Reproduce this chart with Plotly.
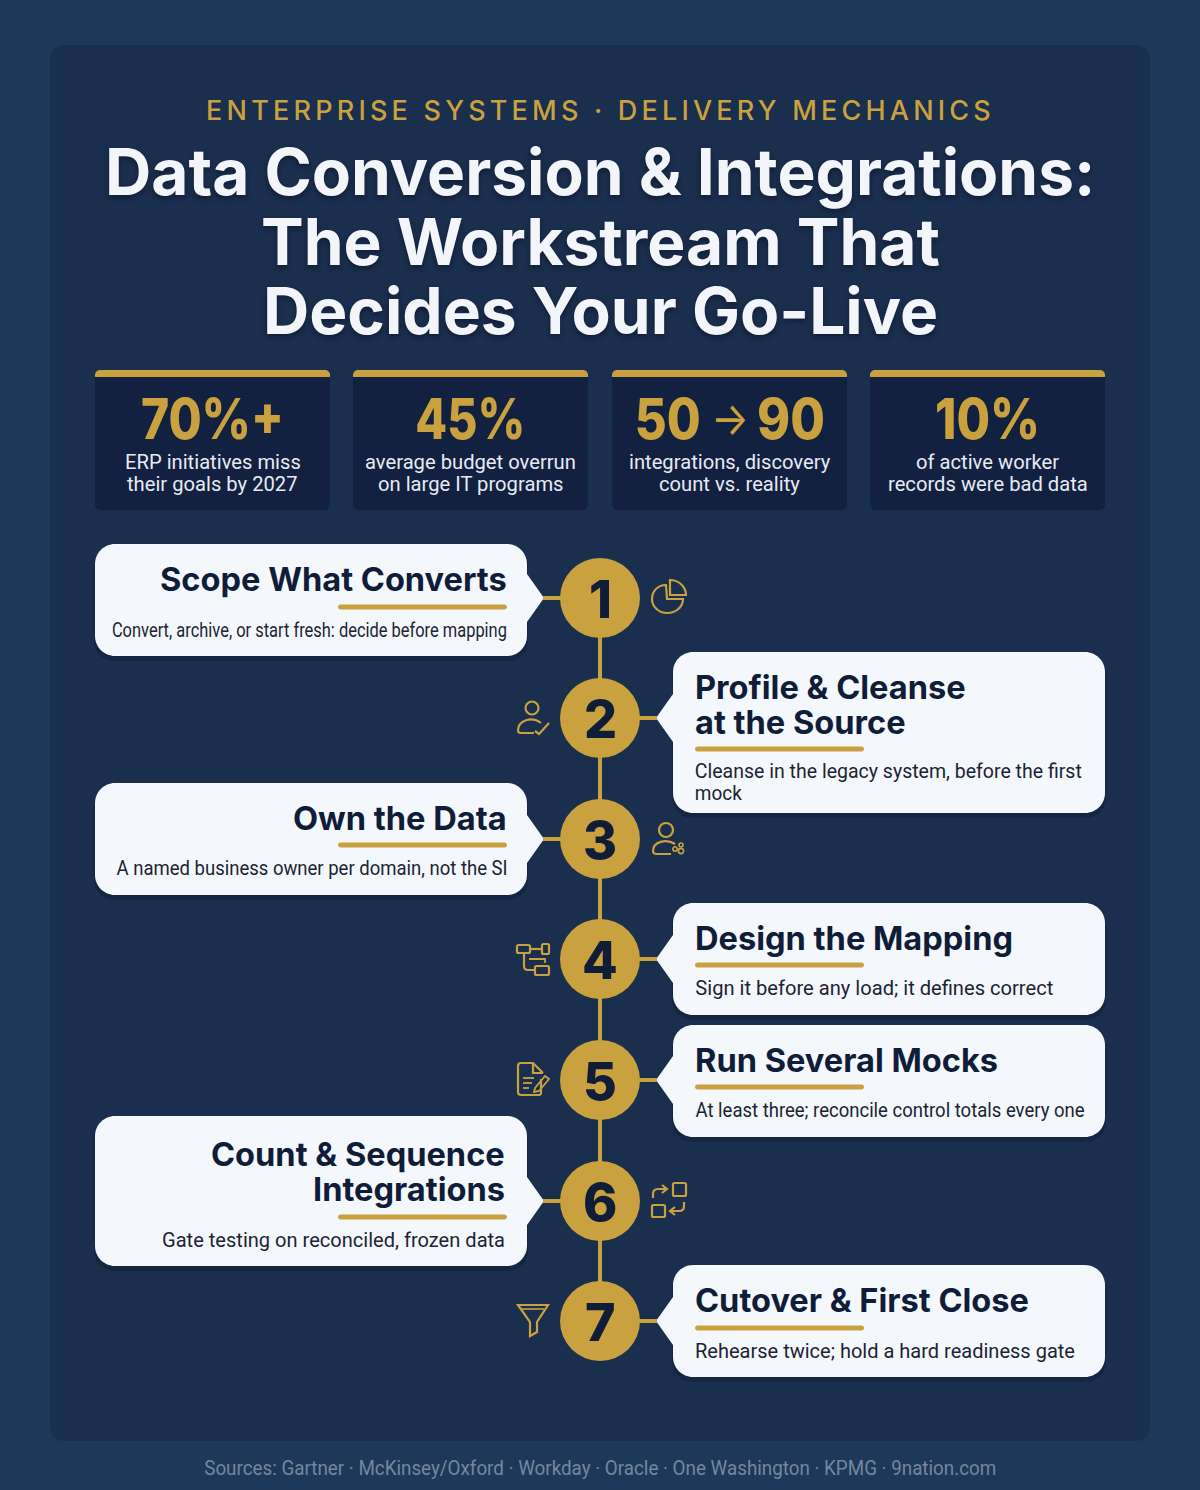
import json
import plotly.graph_objects as go

eyebrow = "ENTERPRISE SYSTEMS · DELIVERY MECHANICS"
headline = ["Data Conversion & Integrations:", "The Workstream That", "Decides Your Go-Live"]
stat_values = ["70%+", "45%", "50 → 90", "10%"]
stat_labels = [
    ["ERP initiatives miss", "their goals by 2027"],
    ["average budget overrun", "on large IT programs"],
    ["integrations, discovery", "count vs. reality"],
    ["of active worker", "records were bad data"],
]
step_numbers = ["1", "2", "3", "4", "5", "6", "7"]
step_titles = [
    ["Scope What Converts"],
    ["Profile & Cleanse", "at the Source"],
    ["Own the Data"],
    ["Design the Mapping"],
    ["Run Several Mocks"],
    ["Count & Sequence", "Integrations"],
    ["Cutover & First Close"],
]
step_descs = [
    ["Convert, archive, or start fresh: decide before mapping"],
    ["Cleanse in the legacy system, before the first", "mock"],
    ["A named business owner per domain, not the SI"],
    ["Sign it before any load; it defines correct"],
    ["At least three; reconcile control totals every one"],
    ["Gate testing on reconciled, frozen data"],
    ["Rehearse twice; hold a hard readiness gate"],
]
sources = "Sources: Gartner · McKinsey/Oxford · Workday · Oracle · One Washington · KPMG · 9nation.com"

# layout of the page, in pixels
step_y = [598, 718, 839, 959, 1080, 1201, 1321]
step_side = ["left", "right", "left", "right", "right", "left", "right"]
card_top = [544, 652, 783, 903, 1025, 1116, 1265]
card_bottom = [656, 813, 895, 1015, 1137, 1266, 1377]
title_y = [[579], [687, 722], [818], [938], [1060], [1154, 1189], [1300]]
rule_y = [607, 749, 845, 965, 1087, 1217, 1328]
desc_y = [[630], [771, 793], [868], [988], [1110], [1240], [1351]]
desc_width = [[395], [387, 47], [391], [358], [389], [343], [380]]
stat_left = [95, 353, 612, 870]
stat_width = 235

GOLD = "#c9a13f"
NAVY = "#101d38"
WHITE = "#f4f7fb"
HEAD = "Inter"
BODY = "Roboto"


def rrect(x0, y0, x1, y1, r, r_bottom=None):
    rb = r if r_bottom is None else r_bottom
    k = 0.45
    return (f"M {x0+r} {y0} L {x1-r} {y0} C {x1-r*k} {y0} {x1} {y0+r*k} {x1} {y0+r} "
            f"L {x1} {y1-rb} C {x1} {y1-rb*k} {x1-rb*k} {y1} {x1-rb} {y1} "
            f"L {x0+rb} {y1} C {x0+rb*k} {y1} {x0} {y1-rb*k} {x0} {y1-rb} "
            f"L {x0} {y0+r} C {x0} {y0+r*k} {x0+r*k} {y0} {x0+r} {y0} Z")


shapes = []


def fill(path, color, layer="below"):
    shapes.append(dict(type="path", path=path, fillcolor=color, line_width=0, layer=layer))


def stroke(path, width=2.2):
    shapes.append(dict(type="path", path=path, line=dict(color=GOLD, width=width), layer="above"))


def ring(cx, cy, r, width=2.2):
    shapes.append(dict(type="circle", x0=cx-r, x1=cx+r, y0=cy-r, y1=cy+r,
                       line=dict(color=GOLD, width=width), layer="above"))


# panel and stat cards
fill(rrect(50, 45, 1150, 1441, 14), "#1a2e4d")
for x in stat_left:
    fill(rrect(x, 370, x+stat_width, 510, 6), "#11213f")
    fill(rrect(x, 370, x+stat_width, 377, 5, 0.5), GOLD)

# step cards with their pointer, connector and rule
for i, y in enumerate(step_y):
    left = step_side[i] == "left"
    x0, x1 = (95, 527) if left else (673, 1105)
    fill(rrect(x0-1, card_top[i]+2, x1+1, card_bottom[i]+5, 20), "rgba(8,18,38,0.28)")
    fill(rrect(x0, card_top[i], x1, card_bottom[i], 20), WHITE)
    if left:
        fill(f"M 527 {y-24} L 544 {y} L 527 {y+24} Z", WHITE)
        fill(f"M 543 {y-2} L 562 {y-2} L 562 {y+2} L 543 {y+2} Z", GOLD)
        fill(rrect(338, rule_y[i]-2.5, 507, rule_y[i]+2.5, 2.5), GOLD)
    else:
        fill(f"M 673 {y-24} L 656 {y} L 673 {y+24} Z", WHITE)
        fill(f"M 638 {y-2} L 657 {y-2} L 657 {y+2} L 638 {y+2} Z", GOLD)
        fill(rrect(695, rule_y[i]-2.5, 864, rule_y[i]+2.5, 2.5), GOLD)

# icon 1, pie
stroke("M 666 585 C 657 585 652 592 652 599 C 652 607 659 613 667 613 C 676 613 683 607 683 599 L 667 599 Z")
stroke("M 670 580 L 670 595 L 686 595 C 686 587 679 580 670 580 Z")
# icon 2, person with check
ring(532, 708, 6.5)
stroke("M 541 723 C 532 716 518 720 518 731 C 518 733 520 733 522 733 L 534 733")
stroke("M 535 731 L 539 734 L 549 723")
# icon 3, person with small glyph
ring(666, 830, 7)
stroke("M 675 844 C 666 838 653 842 653 851 C 653 853 655 854 657 854 L 671 854")
ring(675, 849, 2.2, 1.6)
ring(681, 845, 2, 1.6)
ring(681, 851, 2.6, 1.6)
# icon 4, flow boxes
stroke(rrect(517, 945, 530, 953, 1.5))
stroke(rrect(542, 944, 549, 954, 1.5))
stroke(rrect(535, 966, 549, 975, 1.5))
stroke("M 530 949 L 542 949")
stroke("M 524 953 L 524 966 C 524 969 526 970 528 970 L 535 970")
stroke("M 529 959 L 545 959 L 545 963", 1.8)
# icon 5, document and pencil
stroke("M 541 1079 L 541 1093 C 541 1095 540 1095 538 1095 L 521 1095 C 519 1095 518 1094 518 1092 "
       "L 518 1066 C 518 1064 519 1063 521 1063 L 533 1063 L 543 1073")
stroke("M 533 1063 L 533 1073 L 543 1073")
stroke("M 523 1078 L 534 1078", 1.8)
stroke("M 523 1083 L 532 1083", 1.8)
stroke("M 523 1088 L 529 1088", 1.8)
stroke("M 535 1088 L 545 1076 L 549 1079 L 539 1091 L 534 1092 Z", 1.8)
# icon 6, swap boxes
stroke(rrect(673, 1183, 686, 1196, 1.5))
stroke(rrect(652, 1205, 665, 1217, 1.5))
stroke("M 653 1198 L 653 1194 C 653 1191 655 1189 658 1189 L 666 1189")
stroke("M 662 1185 L 667 1189 L 662 1193")
stroke("M 684 1202 L 684 1206 C 684 1209 682 1211 679 1211 L 671 1211")
stroke("M 675 1207 L 670 1211 L 675 1215")
# icon 7, funnel
stroke("M 518 1305 L 548 1305 L 537 1322 L 537 1332 L 530 1336 L 530 1322 Z")
stroke("M 522 1309 L 544 1309", 1.6)

texts = []
fit_widths = {}  # text -> width it has in the picture, applied in the page script


def label(x, y, s, size, color, family=BODY, weight=400, anchor="center", shadow=None, fit=None):
    font = dict(family=family, size=size, color=color, weight=weight)
    if shadow:
        font["shadow"] = shadow
    texts.append(dict(x=x, y=y, text=s, showarrow=False, xanchor=anchor, yanchor="middle",
                      borderpad=0, borderwidth=0, font=font))
    if fit:
        fit_widths[s] = fit


label(600, 110, eyebrow, 27, GOLD, HEAD, 500)
for line, y in zip(headline, [171, 241, 310]):
    label(600, y, line, 64, "#f2f5fa", HEAD, 700, shadow="0px 3px 5px rgba(6,14,30,0.45)")

stat_fit = [143, 110, None, 105]
for i, x in enumerate(stat_left):
    if stat_fit[i]:
        label(x+stat_width/2, 419, stat_values[i], 56, GOLD, HEAD, 800, fit=stat_fit[i])
    else:
        # the arrow is thinner and smaller than the numbers beside it
        left_num, arrow, right_num = stat_values[i].split(" ")
        label(667, 419, left_num, 56, GOLD, HEAD, 800, fit=66)
        label(730, 418, arrow, 46, GOLD, HEAD, 400, fit=38)
        label(791, 419, right_num, 56, GOLD, HEAD, 800, fit=68)
    label(x+stat_width/2, 462, stat_labels[i][0], 20.2, "#e6ebf3")
    label(x+stat_width/2, 484, stat_labels[i][1], 20.2, "#e6ebf3")

for i in range(len(step_y)):
    left = step_side[i] == "left"
    tx, anchor = (505 if i == 5 else 507, "right") if left else (695, "left")
    for line, y in zip(step_titles[i], title_y[i]):
        label(tx, y, line, 32.6, NAVY, HEAD, 700, anchor)
    for line, y, w in zip(step_descs[i], desc_y[i], desc_width[i]):
        cx = tx - w/2 if left else tx + w/2
        label(cx, y, line, 19.6, "#1c2433", fit=w)
    label(600, step_y[i]+1, step_numbers[i], 52, NAVY, HEAD, 800)

label(600, 1468, sources, 20, "#75869e", fit=792)

fig = go.Figure()
fig.add_trace(go.Scatter(x=[600]*7, y=step_y, mode="lines",
                         line=dict(color=GOLD, width=4), hoverinfo="skip"))
fig.add_trace(go.Scatter(x=[600]*7, y=step_y, mode="markers",
                         marker=dict(size=80, color=GOLD), hoverinfo="skip"))

fig.update_layout(
    width=1200, height=1490,
    margin=dict(l=0, r=0, t=0, b=0),
    paper_bgcolor="#1e3859",
    plot_bgcolor="rgba(0,0,0,0)",
    showlegend=False,
    shapes=shapes,
    annotations=texts,
    xaxis=dict(range=[0, 1200], visible=False, fixedrange=True),
    yaxis=dict(range=[1490, 0], visible=False, fixedrange=True),
)

page_js = """
document.body.style.margin = '0';
document.body.style.overflow = 'hidden';
var fits = %s;
document.querySelectorAll('.annotation-text').forEach(function (t) {
    var s = t.textContent;
    if (s.indexOf('ENTERPRISE') === 0) t.style.letterSpacing = '4.2px';
    if (fits[s]) {
        t.setAttribute('textLength', fits[s]);
        t.setAttribute('lengthAdjust', 'spacingAndGlyphs');
    }
});
""" % json.dumps(fit_widths)
fig.write_html("out.html", post_script=page_js, config=dict(displayModeBar=False))
